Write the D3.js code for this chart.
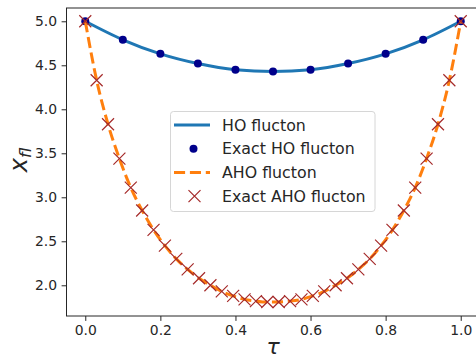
<!DOCTYPE html>
<html>
<head>
<meta charset="utf-8">
<style>
    body {
        margin: 0;
        background: #fff;
        font-family: "DejaVu Sans";
    }
    .tick text {
        font-family: "DejaVu Sans";
        font-size: 13.9px;
        fill: #262626;
    }
    .legend-text {
        font-size: 15.8px;
        fill: #262626;
    }
</style>
</head>
<body>
<script src="https://d3js.org/d3.v7.min.js"></script>
<script>

    // harmonic oscillator flucton, exact points
    var hoTau = [0, 0.1, 0.2, 0.3, 0.4, 0.5, 0.6, 0.7, 0.8, 0.9, 1.0];
    var hoX = [5.00, 4.79, 4.63, 4.52, 4.45, 4.43, 4.45, 4.52, 4.63, 4.79, 5.00];

    // anharmonic oscillator flucton, 34 points on [0, 1]
    var ahoTau = [0, 0.0303, 0.0606, 0.0909, 0.1212, 0.1515, 0.1818, 0.2121, 0.2424, 0.2727,
                  0.3030, 0.3333, 0.3636, 0.3939, 0.4242, 0.4545, 0.4848, 0.5152, 0.5455, 0.5758,
                  0.6061, 0.6364, 0.6667, 0.6970, 0.7273, 0.7576, 0.7879, 0.8182, 0.8485, 0.8788,
                  0.9091, 0.9394, 0.9697, 1.0];
    var ahoX = [5.00, 4.33, 3.83, 3.44, 3.11, 2.85, 2.63, 2.45, 2.30, 2.18,
                2.08, 2.00, 1.93, 1.88, 1.84, 1.82, 1.81, 1.81, 1.82, 1.84,
                1.88, 1.93, 2.00, 2.08, 2.18, 2.30, 2.45, 2.63, 2.85, 3.11,
                3.44, 3.83, 4.33, 5.00];

    var xTicks = [0.0, 0.2, 0.4, 0.6, 0.8, 1.0];
    var yTicks = [2.0, 2.5, 3.0, 3.5, 4.0, 4.5, 5.0];

    var legendLabels = ["HO flucton", "Exact HO flucton", "AHO flucton", "Exact AHO flucton"];

    var width = 476,
        height = 358,
        axLeft = 66.5,
        axRight = 479.5,
        axTop = 8,
        axBottom = 316;

    var x = d3.scaleLinear().domain([-0.05, 1.05]).range([axLeft, axRight]);
    var y = d3.scaleLinear().domain([1.651, 5.151]).range([axBottom, axTop]);

    var svg = d3.select("body").append("svg")
        .attr("width", width)
        .attr("height", height);

    // axes
    var xAxis = svg.append("g")
        .attr("transform", "translate(0," + axBottom + ")")
        .call(d3.axisBottom(x).tickValues(xTicks).tickFormat(d3.format(".1f"))
            .tickSize(4.9).tickPadding(4.5));
    var yAxis = svg.append("g")
        .attr("transform", "translate(" + axLeft + ",0)")
        .call(d3.axisLeft(y).tickValues(yTicks).tickFormat(d3.format(".1f"))
            .tickSize(4.9).tickPadding(4.5));
    [xAxis, yAxis].forEach(function(a) {
        a.select(".domain").remove();
        a.selectAll(".tick line").attr("stroke", "#262626").attr("stroke-width", 1);
    });

    // spines
    svg.append("rect")
        .attr("x", axLeft).attr("y", axTop)
        .attr("width", axRight - axLeft).attr("height", axBottom - axTop)
        .attr("fill", "none")
        .attr("stroke", "#262626")
        .attr("stroke-width", 1);

    var plot = svg.append("g");

    var line = function(xs, ys) {
        return d3.line()
            .x(function(d, i) { return x(xs[i]); })
            .y(function(d, i) { return y(ys[i]); })
            .curve(d3.curveMonotoneX)(xs);
    };

    plot.append("path")
        .attr("d", line(hoTau, hoX))
        .attr("fill", "none")
        .attr("stroke", "#1f77b4")
        .attr("stroke-width", 3);

    plot.selectAll(".ho-dot")
        .data(hoTau)
      .enter().append("circle")
        .attr("cx", function(d) { return x(d); })
        .attr("cy", function(d, i) { return y(hoX[i]); })
        .attr("r", 4)
        .attr("fill", "#00008b");

    plot.append("path")
        .attr("d", line(ahoTau, ahoX))
        .attr("fill", "none")
        .attr("stroke", "#ff7f0e")
        .attr("stroke-width", 3)
        .attr("stroke-dasharray", "11.1,4.8");

    var cross = function(g, cx, cy) {
        var s = 6;
        g.append("path")
            .attr("d", "M" + (cx - s) + "," + (cy - s) + "L" + (cx + s) + "," + (cy + s) +
                       "M" + (cx - s) + "," + (cy + s) + "L" + (cx + s) + "," + (cy - s))
            .attr("stroke", "#a52a2a")
            .attr("stroke-width", 1.2)
            .attr("fill", "none");
    };
    ahoTau.forEach(function(t, i) { cross(plot, x(t), y(ahoX[i])); });

    // legend
    var lg = svg.append("g");
    lg.append("rect")
        .attr("x", 170.5).attr("y", 111.5)
        .attr("width", 204.5).attr("height", 100)
        .attr("rx", 3)
        .attr("fill", "#fff").attr("fill-opacity", 0.8)
        .attr("stroke", "#d6d6d6");

    var rowY = [125, 148.7, 172.4, 196.1];
    lg.append("line")
        .attr("x1", 174).attr("x2", 210).attr("y1", rowY[0]).attr("y2", rowY[0])
        .attr("stroke", "#1f77b4").attr("stroke-width", 3);
    lg.append("circle")
        .attr("cx", 193.5).attr("cy", rowY[1]).attr("r", 4).attr("fill", "#00008b");
    lg.append("line")
        .attr("x1", 174).attr("x2", 210).attr("y1", rowY[2]).attr("y2", rowY[2])
        .attr("stroke", "#ff7f0e").attr("stroke-width", 3)
        .attr("stroke-dasharray", "11.1,4.8");
    cross(lg, 194.5, rowY[3]);

    lg.selectAll(".legend-text")
        .data(legendLabels)
      .enter().append("text")
        .attr("class", "legend-text")
        .attr("x", 222)
        .attr("y", function(d, i) { return rowY[i] + 5.6; })
        .text(function(d) { return d; });

    // axis labels
    svg.append("text")
        .attr("x", 273)
        .attr("y", 354)
        .attr("text-anchor", "middle")
        .attr("font-style", "italic")
        .attr("font-size", 22)
        .attr("fill", "#262626")
        .text("τ");

    var yl = svg.append("text")
        .attr("transform", "translate(27,160) rotate(-90)")
        .attr("text-anchor", "middle")
        .attr("font-style", "italic")
        .attr("fill", "#262626");
    yl.append("tspan").attr("font-size", 24).text("x");
    yl.append("tspan").attr("font-size", 16).attr("dy", 4).text("fl");

</script>
</body>
</html>
